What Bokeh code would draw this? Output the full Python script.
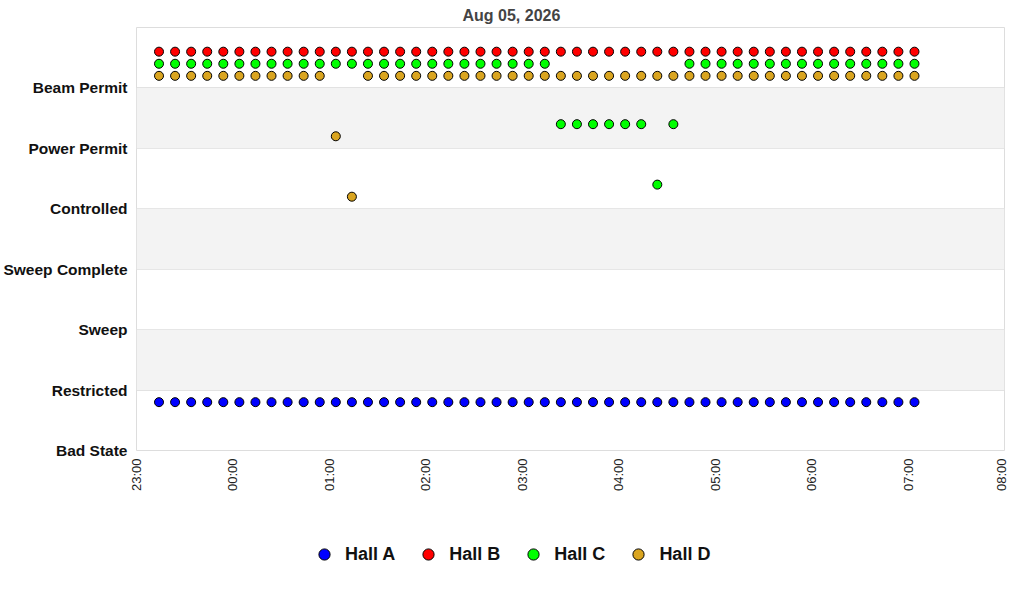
import math
from datetime import datetime
from bokeh.plotting import figure
from bokeh.layouts import column
from bokeh.models import (ColumnDataSource, FixedTicker, Legend, LegendItem,
                          BoxAnnotation, Range1d, DatetimeTickFormatter, Title)
from bokeh.embed import file_html
from bokeh.resources import INLINE

state_labels = ["Bad State", "Restricted", "Sweep", "Sweep Complete",
                "Controlled", "Power Permit", "Beam Permit"]

times = ["2026-08-04 23:14", "2026-08-04 23:24", "2026-08-04 23:34", "2026-08-04 23:44",
         "2026-08-04 23:54", "2026-08-05 00:04", "2026-08-05 00:14", "2026-08-05 00:24",
         "2026-08-05 00:34", "2026-08-05 00:44", "2026-08-05 00:54", "2026-08-05 01:04",
         "2026-08-05 01:14", "2026-08-05 01:24", "2026-08-05 01:34", "2026-08-05 01:44",
         "2026-08-05 01:54", "2026-08-05 02:04", "2026-08-05 02:14", "2026-08-05 02:24",
         "2026-08-05 02:34", "2026-08-05 02:44", "2026-08-05 02:54", "2026-08-05 03:04",
         "2026-08-05 03:14", "2026-08-05 03:24", "2026-08-05 03:34", "2026-08-05 03:44",
         "2026-08-05 03:54", "2026-08-05 04:04", "2026-08-05 04:14", "2026-08-05 04:24",
         "2026-08-05 04:34", "2026-08-05 04:44", "2026-08-05 04:54", "2026-08-05 05:04",
         "2026-08-05 05:14", "2026-08-05 05:24", "2026-08-05 05:34", "2026-08-05 05:44",
         "2026-08-05 05:54", "2026-08-05 06:04", "2026-08-05 06:14", "2026-08-05 06:24",
         "2026-08-05 06:34", "2026-08-05 06:44", "2026-08-05 06:54", "2026-08-05 07:04"]

# state index per sample (0 = Bad State ... 6 = Beam Permit)
hall_a = [0] * 48
hall_b = [6] * 48
hall_c = [6, 6, 6, 6, 6, 6, 6, 6, 6, 6, 6, 6, 6, 6, 6, 6, 6, 6, 6, 6, 6, 6, 6, 6, 6,
          5, 5, 5, 5, 5, 5, 4, 5,
          6, 6, 6, 6, 6, 6, 6, 6, 6, 6, 6, 6, 6, 6, 6]
hall_d = [6, 6, 6, 6, 6, 6, 6, 6, 6, 6, 6, 5, 4,
          6, 6, 6, 6, 6, 6, 6, 6, 6, 6, 6, 6, 6, 6, 6, 6, 6, 6, 6, 6, 6, 6, 6, 6,
          6, 6, 6, 6, 6, 6, 6, 6, 6, 6, 6]

halls = ["Hall A", "Hall B", "Hall C", "Hall D"]
hall_states = [hall_a, hall_b, hall_c, hall_d]
hall_offsets = [0.8, 0.6, 0.4, 0.2]
hall_colors = ["#0000ff", "#ff0000", "#00ff00", "#daa520"]

FONT = "Liberation Sans"

x_times = [datetime.strptime(t, "%Y-%m-%d %H:%M") for t in times]
x0 = datetime(2026, 8, 4, 23, 0)
x1 = datetime(2026, 8, 5, 8, 0)

p = figure(width=1008, height=510, x_axis_type="datetime",
           output_backend="svg", toolbar_location=None,
           x_range=Range1d(x0, x1), y_range=Range1d(0, 7),
           min_border_left=128, min_border_right=4, min_border_top=27,
           min_border_bottom=60)

p.title = Title(text="Aug 05, 2026", align="left", offset=326,
                text_font=FONT, text_font_size="16px", text_font_style="bold",
                text_color="#444444", standoff=8)

p.outline_line_color = "#dddddd"
p.outline_line_width = 1
p.background_fill_color = "white"
p.border_fill_color = "white"

for lo in [1, 3, 5]:
    p.add_layout(BoxAnnotation(bottom=lo, top=lo + 1, fill_color="#f3f3f3",
                               fill_alpha=1.0, line_color=None, level="underlay"))

p.xgrid.grid_line_color = None
p.ygrid.grid_line_color = "#e2e2e2"
p.ygrid.grid_line_width = 1

p.yaxis.ticker = FixedTicker(ticks=list(range(len(state_labels))))
p.yaxis.major_label_overrides = {i: s for i, s in enumerate(state_labels)}
p.yaxis.major_label_text_font = FONT
p.yaxis.major_label_text_font_size = "15.5px"
p.yaxis.major_label_text_font_style = "bold"
p.yaxis.major_label_text_color = "#111111"
p.yaxis.axis_line_color = None
p.yaxis.major_tick_line_color = None
p.yaxis.minor_tick_line_color = None
p.yaxis.major_tick_out = 0
p.yaxis.major_tick_in = 0
p.yaxis.minor_tick_out = 0
p.yaxis.major_label_standoff = 9

hour_ms = 3600 * 1000
x0_ms = (x0 - datetime(1970, 1, 1)).total_seconds() * 1000
p.xaxis.ticker = FixedTicker(ticks=[x0_ms + i * hour_ms for i in range(10)])
p.xaxis.formatter = DatetimeTickFormatter(hours="%H:%M", days="%H:%M",
                                          minutes="%H:%M", hourmin="%H:%M")
p.xaxis.major_label_orientation = math.pi / 2
p.xaxis.major_label_text_font = FONT
p.xaxis.major_label_text_font_size = "13px"
p.xaxis.major_label_text_color = "#222222"
p.xaxis.axis_line_color = None
p.xaxis.major_tick_line_color = None
p.xaxis.minor_tick_line_color = None
p.xaxis.major_tick_out = 0
p.xaxis.major_tick_in = 0
p.xaxis.minor_tick_out = 0
p.xaxis.major_label_standoff = 8

sources = []
for name, st, off, col in zip(halls, hall_states, hall_offsets, hall_colors):
    src = ColumnDataSource(dict(x=x_times, y=[s + off for s in st]))
    sources.append(src)
    p.scatter("x", "y", source=src, size=9, fill_color=col,
              line_color="black", line_width=1)

# legend strip below the chart (its own ranges keep the data out of view)
lg = figure(width=1008, height=80, output_backend="svg", toolbar_location=None,
            x_range=Range1d(0, 1), y_range=Range1d(0, 1),
            x_axis_location=None, y_axis_location=None,
            min_border_left=0, min_border_right=0, min_border_top=0,
            min_border_bottom=0)
lg.outline_line_color = None
lg.xgrid.visible = False
lg.ygrid.visible = False

items = []
for name, src, col in zip(halls, sources, hall_colors):
    r = lg.scatter("x", "y", source=src, size=11, fill_color=col,
                   line_color="black", line_width=1)
    items.append(LegendItem(label=name, renderers=[r]))

legend = Legend(items=items, orientation="horizontal", location=(174, 22),
                label_text_font=FONT, label_text_font_size="18px",
                label_text_font_style="bold", label_text_color="#111111",
                glyph_width=28, glyph_height=28, label_standoff=7, spacing=19,
                border_line_color=None, background_fill_alpha=0.0, padding=10,
                margin=0)
lg.add_layout(legend, "center")

layout = column(p, lg, spacing=0)
open("out.html", "w").write(file_html(layout, INLINE))
